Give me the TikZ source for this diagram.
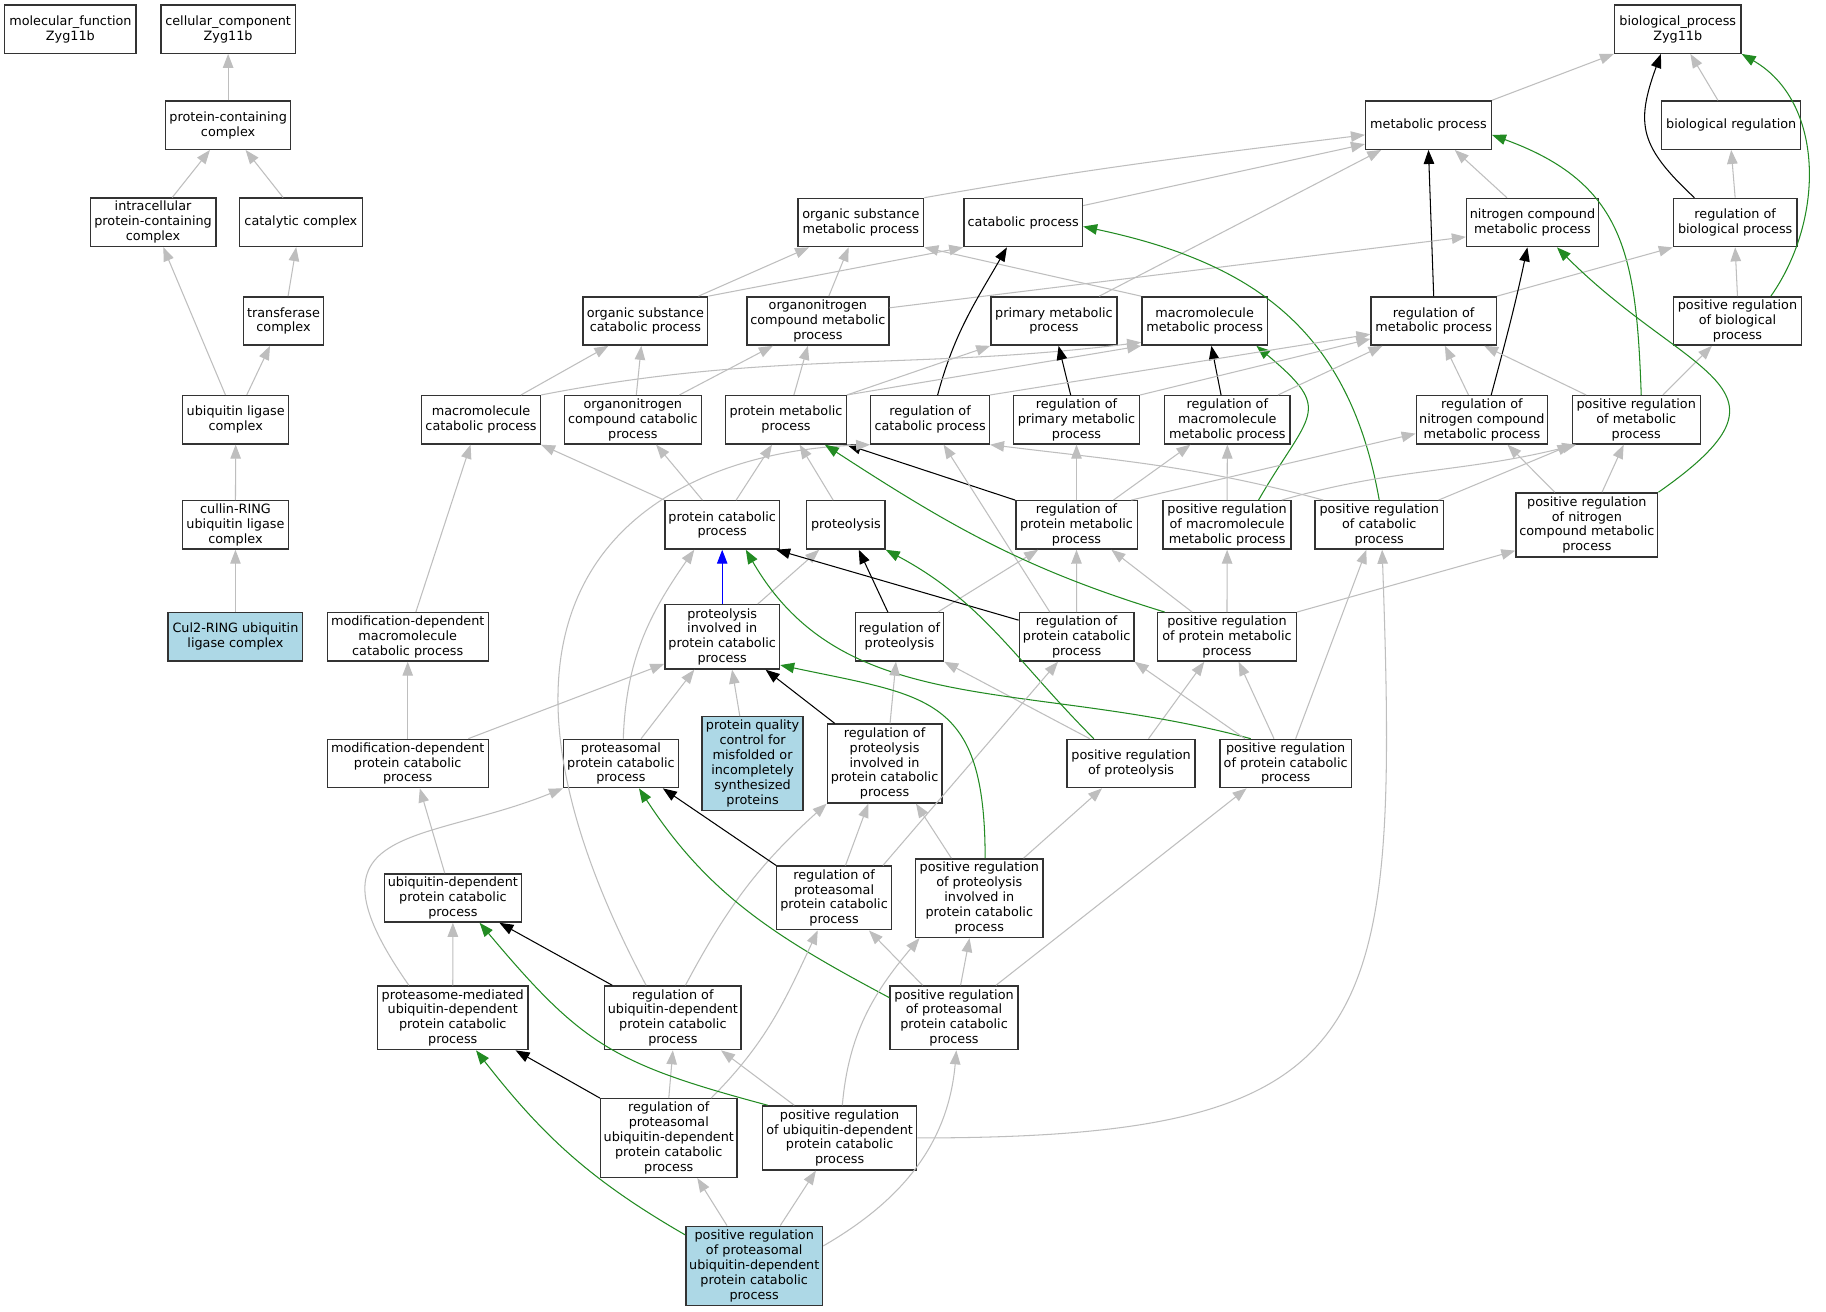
\documentclass[tikz,border=0pt]{standalone}
\usepackage{fontspec}
\setmainfont{DejaVu Sans}
\usetikzlibrary{arrows.meta}
\definecolor{edgegray}{HTML}{BEBEBE}
\definecolor{posgreen}{HTML}{228B22}
\definecolor{seedblue}{HTML}{ADD8E6}
\begin{document}
\begin{tikzpicture}[x=1pt, y=1pt,
  term/.style={draw=black!80, line width=1.2pt, fill=white, align=center, inner sep=0pt, minimum height=41.5pt, font=\fontsize{11}{12.8}\selectfont},
  seed/.style={term, fill=seedblue},
  isa/.style={draw=edgegray, line width=0.9pt, -{Triangle[length=12pt,width=9pt]}},
  reg/.style={isa, draw=black},
  posreg/.style={isa, draw=posgreen},
  partof/.style={isa, draw=blue}]
\path[fill=white] (0,0) rectangle (1568,-1126.6);
\node[term, minimum width=113pt] (mf) at (60.5,-25) {molecular\_function\\Zyg11b};
\node[term, minimum width=115.5pt] (cc) at (196,-25) {cellular\_component\\Zyg11b};
\node[term, minimum width=108.6pt] (bp) at (1441.5,-25) {biological\_process\\Zyg11b};
\node[term, minimum width=107.5pt] (pcc) at (196,-107.5) {protein-containing\\complex};
\node[term, minimum width=108pt] (mp) at (1227.3,-107.5) {metabolic process};
\node[term, minimum width=119.4pt] (br) at (1487.4,-107.5) {biological regulation};
\node[term, minimum width=108pt] (ipcc) at (131.5,-191) {intracellular\\protein-containing\\complex};
\node[term, minimum width=105.6pt] (cat) at (258.5,-191) {catalytic complex};
\node[term, minimum width=108pt] (osmp) at (739.6,-191.2) {organic substance\\metabolic process};
\node[term, minimum width=101.9pt] (catp) at (879.1,-191.2) {catabolic process};
\node[term, minimum width=113.4pt] (ncmp) at (1316.7,-191.2) {nitrogen compound\\metabolic process};
\node[term, minimum width=106pt] (rbp) at (1490.8,-191.2) {regulation of\\biological process};
\node[term, minimum width=68.5pt] (tc) at (243.6,-275.8) {transferase\\complex};
\node[term, minimum width=107pt] (oscp) at (554.5,-275.8) {organic substance\\catabolic process};
\node[term, minimum width=122pt] (oncmp) at (702.7,-275.8) {organonitrogen\\compound metabolic\\process};
\node[term, minimum width=108.3pt] (pmp) at (905.5,-275.8) {primary metabolic\\process};
\node[term, minimum width=108pt] (mmp) at (1035,-275.8) {macromolecule\\metabolic process};
\node[term, minimum width=107.6pt] (rmp) at (1231.8,-275.8) {regulation of\\metabolic process};
\node[term, minimum width=110pt] (prbp) at (1492.8,-275.8) {positive regulation\\of biological\\process};
\node[term, minimum width=91pt] (ulc) at (202.5,-360.7) {ubiquitin ligase\\complex};
\node[term, minimum width=102pt] (mcp) at (413.3,-360.7) {macromolecule\\catabolic process};
\node[term, minimum width=117.6pt] (onccp) at (543.7,-360.7) {organonitrogen\\compound catabolic\\process};
\node[term, minimum width=103.5pt] (prmp) at (675.3,-360.7) {protein metabolic\\process};
\node[term, minimum width=101.9pt] (rcp) at (799.1,-360.7) {regulation of\\catabolic process};
\node[term, minimum width=108.3pt] (rpmp) at (924.9,-360.7) {regulation of\\primary metabolic\\process};
\node[term, minimum width=107.5pt] (rmmp) at (1054.5,-360.7) {regulation of\\macromolecule\\metabolic process};
\node[term, minimum width=112.7pt] (rncmp) at (1273.2,-360.7) {regulation of\\nitrogen compound\\metabolic process};
\node[term, minimum width=110pt] (prmetp) at (1405.8,-360.7) {positive regulation\\of metabolic\\process};
\node[term, minimum width=91.4pt] (crulc) at (202.3,-451) {cullin-RING\\ubiquitin ligase\\complex};
\node[term, minimum width=98.5pt] (pcp) at (620.5,-451) {protein catabolic\\process};
\node[term, minimum width=67.3pt] (prot) at (726.8,-451) {proteolysis};
\node[term, minimum width=104.3pt] (rprmp) at (924.9,-451) {regulation of\\protein metabolic\\process};
\node[term, minimum width=110pt] (prmmp) at (1054.3,-451) {positive regulation\\of macromolecule\\metabolic process};
\node[term, minimum width=110.3pt] (prcp) at (1185,-451) {positive regulation\\of catabolic\\process};
\node[term, minimum width=121.8pt, minimum height=55pt] (prncmp) at (1363.4,-451) {positive regulation\\of nitrogen\\compound metabolic\\process};
\node[seed, minimum width=115.6pt] (cul2) at (202.3,-547.2) {Cul2-RING ubiquitin\\ligase complex};
\node[term, minimum width=138.3pt] (mdmcp) at (350.3,-547.2) {modification-dependent\\macromolecule\\catabolic process};
\node[term, minimum width=98.5pt, minimum height=55.2pt] (pirpcp) at (620.5,-547.2) {proteolysis\\involved in\\protein catabolic\\process};
\node[term, minimum width=75.7pt] (rprot) at (772.8,-547.2) {regulation of\\proteolysis};
\node[term, minimum width=98.4pt] (rpcp) at (925,-547.2) {regulation of\\protein catabolic\\process};
\node[term, minimum width=119.3pt] (prpmp) at (1054.2,-547.2) {positive regulation\\of protein metabolic\\process};
\node[term, minimum width=138.3pt] (mdpcp) at (350.3,-656) {modification-dependent\\protein catabolic\\process};
\node[term, minimum width=98.5pt] (prtcp) at (533.5,-656) {proteasomal\\protein catabolic\\process};
\node[seed, minimum width=86.9pt, minimum height=80.4pt] (pqc) at (646.6,-656) {protein quality\\control for\\misfolded or\\incompletely\\synthesized\\proteins};
\node[term, minimum width=98.4pt, minimum height=67.8pt] (rpirpcp) at (760,-656) {regulation of\\proteolysis\\involved in\\protein catabolic\\process};
\node[term, minimum width=110pt] (prprot) at (971.8,-656) {positive regulation\\of proteolysis};
\node[term, minimum width=113pt] (ppcp) at (1104.6,-656) {positive regulation\\of protein catabolic\\process};
\node[term, minimum width=117.8pt] (udpcp) at (389.1,-771.5) {ubiquitin-dependent\\protein catabolic\\process};
\node[term, minimum width=98.4pt, minimum height=54.7pt] (rppcp) at (716.6,-771.5) {regulation of\\proteasomal\\protein catabolic\\process};
\node[term, minimum width=109.6pt, minimum height=67.5pt] (prpirpcp) at (841.4,-771.7) {positive regulation\\of proteolysis\\involved in\\protein catabolic\\process};
\node[term, minimum width=129pt, minimum height=54.7pt] (pmudpcp) at (389,-874.5) {proteasome-mediated\\ubiquitin-dependent\\protein catabolic\\process};
\node[term, minimum width=117.4pt, minimum height=54.7pt] (rudpcp) at (578.1,-874.5) {regulation of\\ubiquitin-dependent\\protein catabolic\\process};
\node[term, minimum width=110pt, minimum height=54.7pt] (prppcp) at (819.7,-874.5) {positive regulation\\of proteasomal\\protein catabolic\\process};
\node[term, minimum width=117.1pt, minimum height=67.5pt] (rpudpcp) at (574.6,-977.8) {regulation of\\proteasomal\\ubiquitin-dependent\\protein catabolic\\process};
\node[term, minimum width=132.4pt, minimum height=55pt] (prudpcp) at (721.4,-977.7) {positive regulation\\of ubiquitin-dependent\\protein catabolic\\process};
\node[seed, minimum width=117.5pt, minimum height=67.9pt] (target) at (648,-1087.5) {positive regulation\\of proteasomal\\ubiquitin-dependent\\protein catabolic\\process};

\draw[isa] (pcc.north) -- (cc.south);
\draw[isa] ([xshift=16.5pt]ipcc.north) -- ([xshift=-15.6pt]pcc.south);
\draw[isa] ([xshift=-15.3pt]cat.north) -- ([xshift=15pt]pcc.south);
\draw[isa] ([xshift=-8.8pt]ulc.north) -- ([xshift=8.8pt]ipcc.south);
\draw[isa] ([xshift=3.9pt]tc.north) -- ([xshift=-4pt]cat.south);
\draw[isa] ([xshift=9.5pt]ulc.north) -- ([xshift=-11.6pt]tc.south);
\draw[isa] (crulc.north) -- (ulc.south);
\draw[isa] (cul2.north) -- (crulc.south);

\draw[isa] (mp.north east) -- (bp.south west);
\draw[isa] ([xshift=-11.4pt]br.north) -- ([xshift=10.8pt]bp.south);
\draw[reg] ([xshift=-35pt]rbp.north) to[out=137,in=-110,looseness=1.3] ([xshift=-14.5pt]bp.south);
\draw[posreg] ([xshift=28.7pt]prbp.north) to[out=55,in=-30] (bp.south east);
\draw[isa] (rbp.north) -- (br.south);
\draw[isa] (prbp.north) -- (rbp.south);
\draw[isa] (osmp.north east) to[out=10,in=187] ([yshift=-8.4pt]mp.west);
\draw[isa] ([yshift=-6.8pt]catp.north east) -- ([yshift=5pt]mp.south west);
\draw[isa] ([xshift=39pt]pmp.north) -- ([xshift=14pt]mp.south west);
\draw[isa] ([xshift=-22pt]ncmp.north) -- ([xshift=22.6pt]mp.south);
\draw[reg] (rmp.north) -- (mp.south);
\draw[posreg] ([xshift=4.3pt]prmetp.north) to[out=92,in=-20,looseness=1.2] ([yshift=-8.4pt]mp.east);
\draw[isa] (rmp.north east) -- (rbp.south west);

\draw[isa] ([xshift=45.6pt]oscp.north) -- ([xshift=-44.5pt]osmp.south);
\draw[isa] ([xshift=9.4pt]oncmp.north) -- ([xshift=-10.5pt]osmp.south);
\draw[isa] (mmp.north west) -- (osmp.south east);
\draw[isa] (oscp.north east) -- (catp.south west);
\draw[isa] ([yshift=-10pt]oncmp.north east) -- ([yshift=9pt]ncmp.south west);
\draw[reg] ([xshift=6.5pt]rcp.north) to[out=75,in=-120] ([xshift=-14pt]catp.south);
\draw[posreg] (prcp.north) to[out=100,in=-12,looseness=1.1] ([yshift=-3.4pt]catp.east);
\draw[isa] (prmp.north east) -- (pmp.south west);
\draw[isa] (prmp.north east) -- (mmp.south west);
\draw[isa] (mcp.north east) to[out=11,in=187] ([yshift=3pt]mmp.south west);
\draw[isa] ([xshift=34.3pt]mcp.north) -- ([xshift=-31.8pt]oscp.south);
\draw[isa] ([xshift=3pt]onccp.north) -- ([xshift=-3.5pt]oscp.south);
\draw[isa] ([xshift=40pt]onccp.north) -- ([xshift=-38.7pt]oncmp.south);
\draw[isa] ([xshift=6.8pt]prmp.north) -- ([xshift=-8.6pt]oncmp.south);
\draw[reg] ([xshift=-5pt]rpmp.north) -- ([xshift=4pt]pmp.south);
\draw[reg] ([xshift=-5.4pt]rmmp.north) -- ([xshift=5.8pt]mmp.south);
\draw[posreg] ([xshift=27pt]prmmp.north) to[out=60,in=-40,looseness=1.7] ([xshift=44.5pt]mmp.south);

\draw[isa] (rpmp.north east) -- ([yshift=6pt]rmp.south west);
\draw[isa] (rcp.north east) -- ([yshift=10pt]rmp.south west);
\draw[isa] ([xshift=43.5pt]rmmp.north) -- ([xshift=-44pt]rmp.south);
\draw[isa] ([xshift=-11.5pt]rncmp.north) -- ([xshift=9.6pt]rmp.south);
\draw[reg] ([xshift=8pt]rncmp.north) to[out=75,in=-102] ([xshift=-4.4pt]ncmp.south);
\draw[isa] ([xshift=-43pt]prmetp.north) -- ([xshift=43.4pt]rmp.south);
\draw[isa] ([xshift=23pt]prmetp.north) -- ([xshift=-22pt]prbp.south);
\draw[posreg] (prncmp.north east) to[out=35,in=-45,looseness=1.8] ([xshift=21pt]ncmp.south);
\draw[isa] ([xshift=-27.5pt]prncmp.north) -- ([xshift=22pt]rncmp.south);
\draw[isa] ([xshift=13pt]prncmp.north) -- ([xshift=-10.8pt]prmetp.south);
\draw[isa] (prmmp.north) -- (rmmp.south);
\draw[isa] ([xshift=47pt]prmmp.north) to[out=16,in=194] ([xshift=4pt]prmetp.south west);
\draw[isa] ([xshift=-48pt]prcp.north) to[out=165,in=-7] (rcp.south east);
\draw[isa] ([xshift=51pt]prcp.north) -- (prmetp.south west);

\draw[reg] (rprmp.north west) -- (prmp.south east);
\draw[isa] (rprmp.north) -- (rpmp.south);
\draw[isa] ([xshift=31.7pt]rprmp.north) -- ([xshift=-31.7pt]rmmp.south);
\draw[isa] ([xshift=47pt]rprmp.north) -- ([yshift=9.5pt]rncmp.south west);
\draw[isa] ([xshift=12pt]pcp.north) -- ([xshift=-12pt]prmp.south);
\draw[isa] (pcp.north west) -- (mcp.south east);
\draw[isa] ([xshift=-17pt]pcp.north) -- ([xshift=20pt]onccp.south);
\draw[isa] ([xshift=-11pt]prot.north) -- ([xshift=11.7pt]prmp.south);
\draw[isa] ([xshift=-23pt]rudpcp.north) .. controls +(118:400) and +(182:180) .. (rcp.south west);

\draw[partof] (pirpcp.north) -- (pcp.south);
\draw[isa] ([xshift=30.5pt]pirpcp.north) -- ([xshift=-23pt]prot.south);
\draw[reg] ([xshift=-10pt]rprot.north) -- ([xshift=11pt]prot.south);
\draw[isa] ([xshift=33pt]rprot.north) -- ([xshift=-33pt]rprmp.south);
\draw[reg] ([yshift=-7pt]rpcp.north west) -- ([xshift=-3.5pt]pcp.south east);
\draw[isa] (rpcp.north) -- (rprmp.south);
\draw[isa] ([xshift=-23pt]rpcp.north) -- ([xshift=11.6pt]rcp.south);
\draw[isa] ([xshift=-30pt]prpmp.north) -- ([xshift=30pt]rprmp.south);
\draw[posreg] ([xshift=-53.5pt]prpmp.north) to[out=163,in=-33] ([xshift=33.4pt]prmp.south);
\draw[isa] (prpmp.north) -- (prmmp.south);
\draw[isa] (prpmp.north east) -- ([yshift=6pt]prncmp.south west);

\draw[posreg] ([xshift=-32pt]prprot.north) to[out=135,in=-28] (prot.south east);
\draw[isa] ([xshift=-35.6pt]prprot.north) -- (rprot.south east);
\draw[isa] ([xshift=15pt]prprot.north) -- ([xshift=-19.5pt]prpmp.south);
\draw[posreg] ([xshift=-30pt]ppcp.north) .. controls +(165:200) and +(-60:170) .. ([xshift=20.3pt]pcp.south);
\draw[isa] ([xshift=-35pt]ppcp.north) -- (rpcp.south east);
\draw[isa] ([xshift=-10pt]ppcp.north) -- ([xshift=10pt]prpmp.south);
\draw[isa] ([xshift=8.6pt]ppcp.north) -- ([xshift=-11pt]prcp.south);
\draw[isa] ([xshift=-11pt]pqc.north) -- ([xshift=8.5pt]pirpcp.south);
\draw[isa] ([xshift=17.3pt]prtcp.north) -- ([xshift=-24pt]pirpcp.south);
\draw[isa] ([xshift=2pt]prtcp.north) to[out=88,in=-125] ([xshift=-24pt]pcp.south);
\draw[isa] ([xshift=52pt]mdpcp.north) -- ([yshift=5pt]pirpcp.south west);
\draw[isa] (mdpcp.north) -- (mdmcp.south);
\draw[isa] ([xshift=7pt]mdmcp.north) -- ([xshift=-9pt]mcp.south);
\draw[reg] ([xshift=-42.8pt]rpirpcp.north) -- ([xshift=37.3pt]pirpcp.south);
\draw[isa] ([xshift=4.7pt]rpirpcp.north) -- ([xshift=-3pt]rprot.south);

\draw[isa] ([xshift=-7pt]udpcp.north) -- ([xshift=10.4pt]mdpcp.south);
\draw[isa] (pmudpcp.north) -- (udpcp.south);
\draw[isa] ([xshift=-37.7pt]pmudpcp.north) .. controls +(125:170) and +(202:130) .. (prtcp.south west);
\draw[reg] ([xshift=-52pt]rudpcp.north) -- ([xshift=40pt]udpcp.south);
\draw[isa] ([xshift=10.8pt]rudpcp.north) to[out=62,in=-138] (rpirpcp.south west);
\draw[reg] (rppcp.north west) -- ([xshift=36pt]prtcp.south);
\draw[isa] ([xshift=9.8pt]rppcp.north) -- ([xshift=-14pt]rpirpcp.south);
\draw[isa] ([xshift=42pt]rppcp.north) -- ([xshift=-16pt]rpcp.south);
\draw[isa] ([xshift=-24pt]prpirpcp.north) -- ([xshift=27pt]rpirpcp.south);
\draw[posreg] ([xshift=5pt]prpirpcp.north) .. controls +(90:140) and +(-12:130) .. ([yshift=4pt]pirpcp.south east);
\draw[isa] ([xshift=38pt]prpirpcp.north) -- ([xshift=-25pt]prprot.south);
\draw[isa] ([xshift=-27pt]prppcp.north) -- ([xshift=30pt]rppcp.south);
\draw[isa] ([xshift=5.6pt]prppcp.north) -- ([xshift=-8.4pt]prpirpcp.south);
\draw[posreg] ([yshift=-10.6pt]prppcp.north west) to[out=152,in=-57] ([xshift=15.5pt]prtcp.south);
\draw[isa] ([xshift=36pt]prppcp.north) -- ([xshift=-33.6pt]ppcp.south);

\draw[reg] (rpudpcp.north west) -- ([xshift=54pt]pmudpcp.south);
\draw[isa] (rpudpcp.north) -- (rudpcp.south);
\draw[isa] ([xshift=36.4pt]rpudpcp.north) to[out=45,in=-115] ([xshift=-14pt]rppcp.south);
\draw[posreg] ([xshift=5pt]prudpcp.north west) to[out=165,in=-50,looseness=1.2] ([xshift=23pt]udpcp.south);
\draw[isa] ([xshift=-39pt]prudpcp.north) -- ([xshift=41.4pt]rudpcp.south);
\draw[isa] ([xshift=2.3pt]prudpcp.north) to[out=85,in=-130] ([xshift=4pt]prpirpcp.south west);
\draw[isa] (prudpcp.east) .. controls +(0:400) and +(-88:420) .. ([xshift=2.5pt]prcp.south);
\draw[posreg] ([yshift=-8pt]target.north west) to[out=150,in=-52] ([xshift=20pt]pmudpcp.south);
\draw[isa] ([xshift=-23.4pt]target.north) -- ([xshift=24.5pt]rpudpcp.south);
\draw[isa] ([xshift=22.4pt]target.north) -- ([xshift=-20.4pt]prudpcp.south);
\draw[isa] ([yshift=-17.5pt]target.north east) to[out=30,in=-95] ([xshift=2pt]prppcp.south);
\end{tikzpicture}
\end{document}
